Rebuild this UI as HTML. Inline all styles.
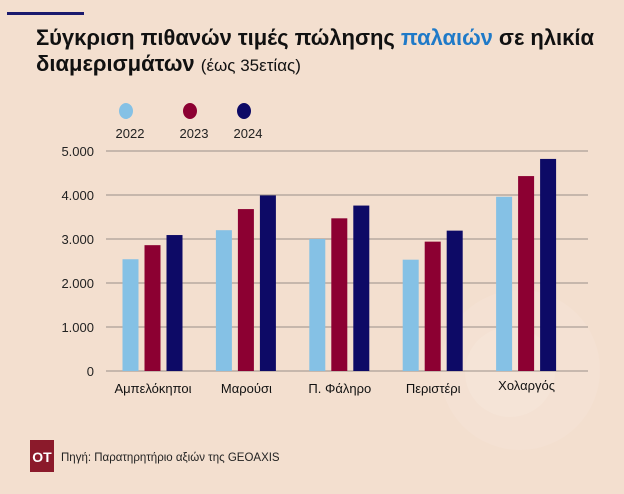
<!DOCTYPE html>
<html><head><meta charset="utf-8"><style>
body{margin:0;width:624px;height:494px;overflow:hidden;background:#f3dfcf;font-family:"Liberation Sans","Noto Sans CJK SC",sans-serif;}
#wrap{position:relative;width:624px;height:494px;}
</style></head><body><div id="wrap">
<svg width="624" height="494" style="position:absolute;left:0;top:0">
<circle cx="520" cy="370" r="80" fill="#f4e1d3"/>
<circle cx="510" cy="372" r="45" fill="#f5e4d7"/>
<rect x="7" y="12" width="77" height="3" fill="#1a1a6e"/>
<text x="36" y="45" font-size="22" font-weight="bold" fill="#111" textLength="558">Σύγκριση πιθανών τιμές πώλησης <tspan fill="#1f7ac8">παλαιών</tspan> σε ηλικία</text>
<text x="36" y="71" font-size="22" font-weight="bold" fill="#111">διαμερισμάτων <tspan font-weight="normal" font-size="17">(έως 35ετίας)</tspan></text>
<g id="legend"></g>
<g id="grid"></g><g id="bars"></g><g id="xl"></g>
<rect x="30" y="440" width="24" height="32" fill="#8b1a2b"/>
<text x="42" y="462" font-size="14" font-weight="bold" fill="#fff" text-anchor="middle">OT</text>
<text x="61" y="461" font-size="11.5" fill="#222">Πηγή: Παρατηρητήριο αξιών της GEOAXIS</text>
</svg>
<script>
const categories=["Αμπελόκηποι","Μαρούσι","Π. Φάληρο","Περιστέρι","Χολαργός"];
const years=["2022","2023","2024"];
const s2022=[2540,3200,3000,2530,3960];
const s2023=[2860,3680,3470,2940,4430];
const s2024=[3090,3990,3760,3190,4820];
const ticks=[0,1000,2000,3000,4000,5000];
const tickLabels=["0","1.000","2.000","3.000","4.000","5.000"];
const colors=["#85c1e5","#8c0032","#0d0a66"];
const NS="http://www.w3.org/2000/svg";
function el(t,a,p){const e=document.createElementNS(NS,t);for(const k in a)e.setAttribute(k,a[k]);p.appendChild(e);return e;}
const y=v=>371-v*(220/5000);
const x0=106,x1=588,band=93.4,first=153;
const cx=i=>first+i*band;
const grid=document.getElementById('grid');
ticks.forEach((t,i)=>{
 const l=el('line',{x1:x0,x2:x1,y1:y(t),y2:y(t),stroke:'#9a8f88','stroke-width':1},grid);
 
 
 const tx=el('text',{x:94,y:y(t)+5,'font-size':13,'text-anchor':'end',fill:'#222'},grid);
 tx.textContent=tickLabels[i];
 
 
});
const bars=document.getElementById('bars');
[s2022,s2023,s2024].forEach((s,j)=>{
 s.forEach((v,i)=>{
  const r=el('rect',{x:cx(i)-30.5+j*22,y:y(v),width:16,height:y(0)-y(v),fill:colors[j]},bars);
  
  
 });
});
const xl=document.getElementById('xl');
categories.forEach((c,i)=>{
 const t=el('text',{x:cx(i),y:i==4?390:393,'font-size':13,'text-anchor':'middle',fill:'#111'},xl);
 t.textContent=c;
 
 
});
const lg=document.getElementById('legend');
const lx=[126,190,244];
years.forEach((yr,j)=>{
 const c=el('ellipse',{cx:lx[j],cy:111,rx:7,ry:8,fill:colors[j]},lg);
 
 
 const t=el('text',{x:lx[j]+4,y:138,'font-size':13,'text-anchor':'middle',fill:'#222'},lg);
 t.textContent=yr;
 
 
});
</script>
</div></body></html>
